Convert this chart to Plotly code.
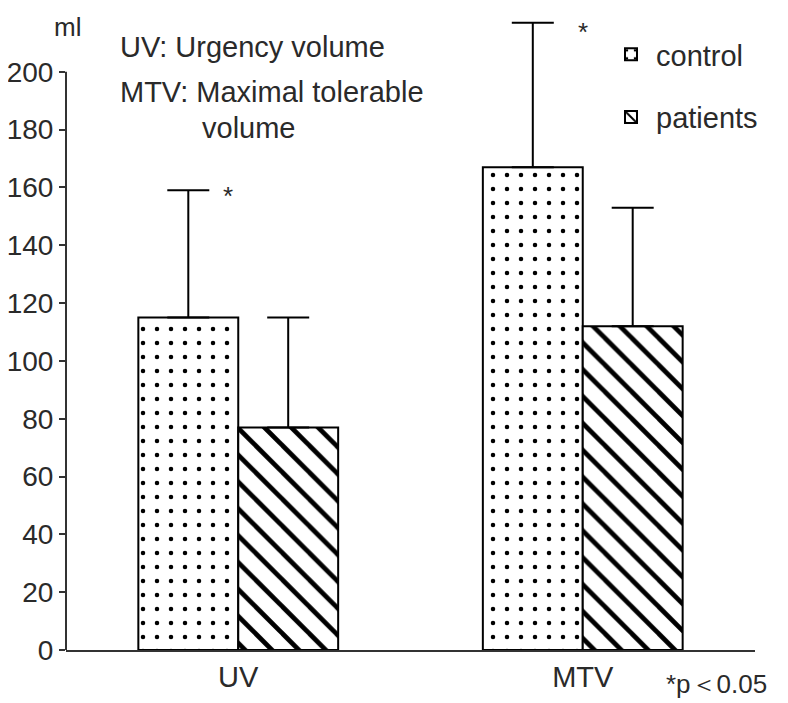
import plotly.graph_objects as go

categories = ["UV", "MTV"]
control_mean = [115, 167]
control_sd = [44, 50]
patients_mean = [77, 112]
patients_sd = [38, 41]
y_ticks = [0, 20, 40, 60, 80, 100, 120, 140, 160, 180, 200]

W, H = 788, 703
OFF = 8  # page body margin
AX_X, AX_Y0, AX_XEND = 66, 650, 755  # reference pixel positions
YMAX = 220
L = AX_X - OFF
B = H - (AX_Y0 - OFF)
R = W - (AX_XEND - OFF)
pw = W - L - R
ph_unit = 2.89
T = H - B - round(YMAX * ph_unit)
ph = H - T - B

def px_x(x):
    return (x - OFF - L) / pw

def px_y(y):
    return (H - B - (y - OFF)) / ph

FONT = "Liberation Sans, Arial, sans-serif"
TXT = "#2a2a2a"

fig = go.Figure()
fig.add_trace(go.Bar(
    name="control", x=categories, y=control_mean,
    marker=dict(color="white", line=dict(color="black", width=2),
                pattern=dict(shape=".", size=14, solidity=0.08, fgopacity=1,
                             fgcolor="black", bgcolor="white")),
    error_y=dict(type="data", array=control_sd, arrayminus=[0, 0],
                 symmetric=False, color="black", thickness=2, width=21),
    legendgroup="a",
))
fig.add_trace(go.Bar(
    name="patients", x=categories, y=patients_mean,
    marker=dict(color="white", line=dict(color="black", width=2),
                pattern=dict(shape="\\", size=19, solidity=0.25, fgopacity=1,
                             fgcolor="black", bgcolor="white")),
    error_y=dict(type="data", array=patients_sd, arrayminus=[0, 0],
                 symmetric=False, color="black", thickness=2, width=21),
    legendgroup="b",
))

fig.add_shape(type="line", xref="paper", yref="y", x0=0, x1=0, y0=0, y1=200,
              line=dict(color="#333", width=2))

annos = [
    ("ml", 52, 27, 26),
    ("UV: Urgency volume", 118, 47, 29),
    ("MTV: Maximal tolerable", 118, 92, 29),
    ("volume", 200, 128, 29),
    ("*", 221, 196, 26),
    ("*", 576, 32, 26),
    ("*p＜0.05", 664, 684, 26),
]
for text, x, y, s in annos:
    fig.add_annotation(text=text, xref="paper", yref="paper",
                       x=px_x(x), y=px_y(y), xanchor="left", yanchor="middle",
                       showarrow=False, font=dict(size=s, color=TXT, family=FONT))

fig.update_layout(
    width=W, height=H,
    margin=dict(l=L, r=R, t=T, b=B, autoexpand=False),
    plot_bgcolor="white", paper_bgcolor="white",
    barmode="group", bargap=0.42, bargroupgap=0,
    font=dict(family=FONT, size=28, color=TXT),
    legend=dict(x=px_x(606), y=px_y(29), xanchor="left", yanchor="top",
                font=dict(size=29, color=TXT, family=FONT),
                traceorder="grouped", tracegroupgap=22,
                bgcolor="rgba(0,0,0,0)", itemwidth=40),
    showlegend=True,
)
fig.update_xaxes(showline=True, linecolor="#333", linewidth=2, ticks="",
                 tickfont=dict(size=29, color=TXT), showgrid=False,
                 range=[-0.5, 1.5], automargin=False)
fig.update_yaxes(range=[0, YMAX], tickvals=y_ticks, ticks="outside", ticklen=6,
                 tickwidth=2, tickcolor="#333", showline=False, showgrid=False,
                 zeroline=False, tickfont=dict(size=28, color=TXT),
                 automargin=False)

fig.write_html("out.html")
